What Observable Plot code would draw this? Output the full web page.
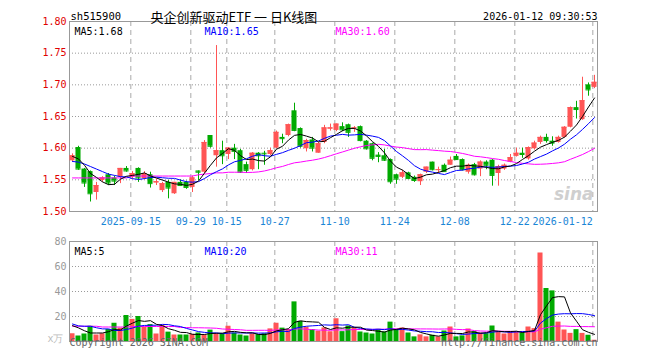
<!DOCTYPE html>
<html><head><meta charset="utf-8">
<script src="https://cdn.jsdelivr.net/npm/d3@7"></script>
<script src="https://cdn.jsdelivr.net/npm/@observablehq/plot@0.6"></script>
<style>
html,body{margin:0;padding:0;background:#fff;}
#wrap{position:relative;width:660px;height:360px;overflow:hidden;background:#fff;}
#wrap svg{position:absolute;left:0;}
</style></head><body><div id="wrap"></div>
<script>
const symbol = "sh515900";
const title = "央企创新驱动ETF 一 日K线图";
const timestamp = "2026-01-12 09:30:53";

const openP = [1.580,1.601,1.567,1.563,1.530,1.549,1.558,1.553,1.554,1.568,
1.554,1.568,1.552,1.558,1.545,1.533,1.546,1.528,1.546,1.546,
1.538,1.564,1.562,1.620,1.588,1.596,1.590,1.600,1.596,1.574,
1.566,1.592,1.592,1.590,1.600,1.617,1.620,1.659,1.631,1.599,
1.613,1.592,1.609,1.630,1.628,1.634,1.637,1.631,1.634,1.611,
1.607,1.589,1.588,1.582,1.558,1.554,1.561,1.554,1.547,1.562,
1.578,1.565,1.573,1.573,1.587,1.582,1.562,1.574,1.567,1.578,
1.581,1.560,1.567,1.578,1.587,1.592,1.583,1.599,1.609,1.617,
1.611,1.609,1.617,1.633,1.664,1.645,1.700,1.696];

const high = [1.591,1.603,1.568,1.564,1.546,1.555,1.560,1.556,1.568,1.571,
1.563,1.569,1.563,1.562,1.551,1.546,1.549,1.546,1.550,1.548,
1.556,1.564,1.612,1.620,1.762,1.611,1.601,1.606,1.598,1.578,
1.593,1.593,1.595,1.600,1.627,1.622,1.638,1.671,1.632,1.614,
1.617,1.609,1.636,1.638,1.638,1.640,1.638,1.634,1.635,1.612,
1.608,1.593,1.598,1.583,1.559,1.565,1.562,1.556,1.559,1.570,
1.578,1.570,1.575,1.586,1.590,1.583,1.575,1.576,1.580,1.580,
1.582,1.573,1.575,1.590,1.600,1.600,1.602,1.611,1.619,1.622,
1.618,1.619,1.634,1.665,1.674,1.712,1.703,1.715];

const low = [1.578,1.565,1.538,1.515,1.518,1.546,1.541,1.541,1.544,1.562,
1.551,1.546,1.550,1.537,1.541,1.530,1.520,1.527,1.540,1.535,
1.530,1.549,1.560,1.600,1.570,1.574,1.582,1.582,1.560,1.560,
1.564,1.566,1.573,1.588,1.599,1.607,1.618,1.626,1.600,1.594,
1.594,1.592,1.607,1.627,1.626,1.626,1.617,1.625,1.610,1.597,
1.580,1.577,1.579,1.543,1.543,1.552,1.551,1.546,1.541,1.560,
1.564,1.560,1.562,1.573,1.581,1.564,1.559,1.556,1.555,1.566,
1.540,1.540,1.565,1.577,1.586,1.584,1.581,1.597,1.606,1.608,
1.603,1.608,1.616,1.632,1.646,1.644,1.682,1.694];

const close = [1.588,1.567,1.545,1.528,1.541,1.553,1.545,1.548,1.568,1.564,
1.560,1.553,1.560,1.544,1.547,1.544,1.537,1.546,1.541,1.538,
1.553,1.562,1.609,1.603,1.596,1.588,1.600,1.595,1.562,1.565,
1.592,1.588,1.591,1.596,1.625,1.615,1.637,1.628,1.603,1.612,
1.600,1.607,1.632,1.632,1.638,1.629,1.625,1.632,1.612,1.599,
1.584,1.587,1.581,1.547,1.551,1.561,1.552,1.549,1.558,1.570,
1.566,1.566,1.563,1.581,1.582,1.566,1.573,1.558,1.578,1.573,
1.557,1.571,1.573,1.585,1.592,1.590,1.601,1.608,1.617,1.612,
1.608,1.617,1.633,1.664,1.661,1.675,1.692,1.704];

const volume = [6.2,4.4,6.0,12.2,5.2,6.2,9.6,14.6,10.7,20.8,
17.7,20.0,11.4,13.5,6.0,12.7,7.5,5.2,5.2,5.2,
5.7,6.8,5.2,9.1,6.2,6.2,12.2,6.8,5.2,4.4,
6.2,5.5,6.2,10.1,14.6,10.7,9.6,31.7,16.1,11.4,
9.6,8.3,10.9,7.8,18.2,7.9,12.4,11.0,7.6,6.8,
6.0,9.7,7.6,15.5,9.7,10.8,6.8,3.7,5.3,3.7,
5.0,3.7,8.4,11.6,3.7,4.5,10.0,7.9,6.8,6.3,
12.4,7.6,6.0,7.6,7.6,7.1,11.6,10.3,70.8,42.4,
40.5,15.5,9.2,6.5,9.5,6.5,5.0,1.0];

// moving-average values for the first days (history before the window)
const ma5Start = [1.587,1.583,1.573,1.560];
const ma10Start = [1.579,1.578,1.575,1.571,1.567,1.563,1.559,1.557,1.555];
const ma30Start = [1.553,1.553,1.553,1.553,1.553,1.553,1.553,1.553,1.553,1.553,
1.556,1.556,1.556,1.556,1.556,1.556,1.556,1.556,1.556,1.556,1.556,
1.558,1.559,1.560,1.561,1.561,1.562,1.562,1.562];
const volMa5Start = [12.7,10.9,8.6,6.8];
const volMa10Start = [14.0,12.5,12.2,12.2,11.0,10.1,10.1,8.8,8.8];
const volMa30Start = [12.2,12.2,12.2,12.2,12.2,11.6,11.6,11.6,11.6,11.6,
12.0,12.0,12.0,12.0,12.0,12.0,12.0,12.0,11.2,11.2,
11.0,11.0,10.9,10.8,10.6,10.0,9.8,9.6,9.4];

const tickIndex = [10,20,26,34,44,54,64,74,87];
const tickLabels = ["2025-09-15","09-29","10-15","10-27","11-10","11-24","12-08","12-22","2026-01-12"];
const priceTicks = [1.50,1.55,1.60,1.65,1.70,1.75,1.80];
const volTicks = [20,40,60,80];

function ma(values, k, start) {
  return values.map((v, i) => i < k - 1 ? start[i] : d3.mean(values.slice(i - k + 1, i + 1)));
}
const n = close.length;
const idx = d3.range(n);
const candles = idx.map(i => ({i, o: openP[i], h: high[i], l: low[i], c: close[i], v: volume[i], up: close[i] >= openP[i]}));
const RED = "#ff5555", GREEN = "#00aa00", BLUE_TXT = "#1a86d6";
const col = d => d.up ? RED : GREEN;
const pm5 = ma(close, 5, ma5Start), pm10 = ma(close, 10, ma10Start), pm30 = ma(close, 30, ma30Start);
const vm5 = ma(volume, 5, volMa5Start), vm10 = ma(volume, 10, volMa10Start), vm30 = ma(volume, 30, volMa30Start);
const grid = tickIndex.map((t, k) => ({x: t - 0.28, label: tickLabels[k]}));
const xDomain = [-0.5, n - 0.5];
const FONT = "'DejaVu Sans Mono', monospace";

const bodyX1 = d => d.i - 0.42, bodyX2 = d => d.i + 0.42;

const pricePlot = Plot.plot({
  width: 660, height: 230, marginTop: 21, marginBottom: 19, marginLeft: 69, marginRight: 63,
  x: {domain: xDomain, axis: null},
  y: {domain: [1.5, 1.8], axis: null},
  color: {type: "identity"},
  style: {fontFamily: FONT, fontSize: "10px", background: "white"},
  marks: [
    Plot.ruleY(priceTicks.slice(1, -1), {stroke: "#9a9a9a", strokeDasharray: "1,2"}),
    Plot.ruleX(grid, {x: "x", stroke: "#aaa", strokeDasharray: "5,4"}),
    Plot.frame({stroke: "#999"}),
    Plot.ruleX(candles, {x: "i", y1: "l", y2: "h", stroke: col}),
    Plot.rect(candles, {x1: bodyX1, x2: bodyX2, y1: "o", y2: "c", fill: col}),
    Plot.ruleY(candles, {x1: bodyX1, x2: bodyX2, y: "c", stroke: col}),
    Plot.line(idx, {x: d => d, y: d => pm30[d], stroke: "#ff00ff", strokeWidth: 1}),
    Plot.line(idx, {x: d => d, y: d => pm10[d], stroke: "#0000ff", strokeWidth: 1}),
    Plot.line(idx, {x: d => d, y: d => pm5[d], stroke: "#000000", strokeWidth: 1}),
    Plot.text(["sina"], {frameAnchor: "bottom-right", dx: -4, dy: -12, textAnchor: "end", fontSize: 17, fontWeight: "bold", fontStyle: "italic", fill: "#cfcfcf", fontFamily: "DejaVu Sans"}),
    Plot.text(priceTicks, {x: -0.5, y: d => d, text: d => d.toFixed(2), dx: -3, textAnchor: "end", fill: "#e00000"}),
    Plot.text(grid.slice(0, -1), {x: "x", y: 1.5, text: "label", dy: 10, fill: BLUE_TXT}),
    Plot.text(grid.slice(-1), {x: "x", y: 1.5, text: "label", dy: 10, textAnchor: "end", fill: BLUE_TXT}),
    Plot.text([`MA5:${pm5[n-1].toFixed(2)}`], {frameAnchor: "top-left", dx: 5, dy: 6, textAnchor: "start", fill: "#000"}),
    Plot.text([`MA10:${pm10[n-1].toFixed(2)}`], {frameAnchor: "top-left", dx: 135, dy: 6, textAnchor: "start", fill: "#0000ff"}),
    Plot.text([`MA30:${pm30[n-1].toFixed(2)}`], {frameAnchor: "top-left", dx: 266, dy: 6, textAnchor: "start", fill: "#ff00ff"}),
    Plot.text([symbol], {frameAnchor: "top-left", dx: 1, dy: -9, textAnchor: "start", fill: "#000", fontSize: 10.5}),
    Plot.text([title], {frameAnchor: "top-left", dx: 81, dy: -9, textAnchor: "start", fill: "#000", fontSize: 13, fontFamily: "'Noto Sans CJK SC', sans-serif"}),
    Plot.text([timestamp], {frameAnchor: "top-right", dy: -9, textAnchor: "end", fill: "#000"})
  ]
});

const volPlot = Plot.plot({
  width: 660, height: 130, marginTop: 11, marginBottom: 19, marginLeft: 69, marginRight: 63,
  x: {domain: xDomain, axis: null},
  y: {domain: [0, 80], axis: null},
  color: {type: "identity"},
  style: {fontFamily: FONT, fontSize: "10px", background: "white"},
  marks: [
    Plot.ruleY(volTicks.slice(0, -1), {stroke: "#9a9a9a", strokeDasharray: "1,2"}),
    Plot.ruleX(grid, {x: "x", stroke: "#aaa", strokeDasharray: "5,4"}),
    Plot.rect(candles, {x1: bodyX1, x2: bodyX2, y1: 0, y2: "v", fill: col}),
    Plot.line(idx, {x: d => d, y: d => vm30[d], stroke: "#ff00ff", strokeWidth: 1}),
    Plot.line(idx, {x: d => d, y: d => vm10[d], stroke: "#0000ff", strokeWidth: 1}),
    Plot.line(idx, {x: d => d, y: d => vm5[d], stroke: "#000000", strokeWidth: 1}),
    Plot.frame({stroke: "#999"}),
    Plot.text(volTicks, {x: -0.5, y: d => d, dx: -3, textAnchor: "end", fill: "#999"}),
    Plot.text(["x万"], {frameAnchor: "bottom-left", dx: -6, dy: 0, textAnchor: "end", fill: "#bbb"}),
    Plot.text([`MA5:${Math.floor(vm5[n-1])}`], {frameAnchor: "top-left", dx: 5, dy: 6, textAnchor: "start", fill: "#000"}),
    Plot.text([`MA10:${Math.floor(vm10[n-1])}`], {frameAnchor: "top-left", dx: 135, dy: 6, textAnchor: "start", fill: "#0000ff"}),
    Plot.text([`MA30:${Math.floor(vm30[n-1])}`], {frameAnchor: "top-left", dx: 266, dy: 6, textAnchor: "start", fill: "#ff00ff"}),
    Plot.text(["Copyright 2026 SINA.COM"], {frameAnchor: "bottom-left", dy: 4, textAnchor: "start", fill: "#666"}),
    Plot.text(["http://finance.sina.com.cn"], {frameAnchor: "bottom-right", dy: 4, textAnchor: "end", fill: "#666"})
  ]
});

const wrap = document.getElementById("wrap");
pricePlot.style.top = "0px";
volPlot.style.top = "230px";
wrap.appendChild(pricePlot);
wrap.appendChild(volPlot);
</script></body></html>
